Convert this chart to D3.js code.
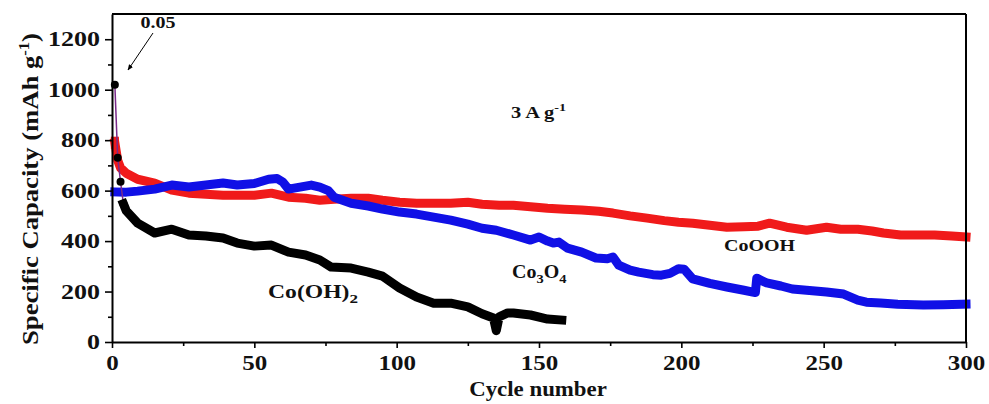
<!DOCTYPE html>
<html><head><meta charset="utf-8">
<script src="https://cdn.jsdelivr.net/npm/d3@7/dist/d3.min.js"></script>
<style>
body{margin:0;background:#fff}
text{font-family:"Liberation Serif","Times New Roman",serif;font-weight:bold;fill:#111}
</style>
</head><body>
<svg id="chart" width="989" height="404"></svg>
<script>
// ---------- data ----------
const xTicks = [0, 50, 100, 150, 200, 250, 300];
const xMinorTicks = [25, 75, 125, 175, 225, 275];
const yTicks = [0, 200, 400, 600, 800, 1000, 1200];
const yMinorTicks = [100, 300, 500, 700, 900, 1100];

const cobhCycles = [1,2,3,4,5,9,15,21,27,33,39,44,50,56,62,68,73,77,84,90,95,101,107,113,119,125,130,134,135,136,139,141,147,153,158];
const cobhValues = [1020,730,635,548,520,471,432,447,424,420,412,392,380,384,356,345,325,297,293,277,261,214,178,154,154,139,112,95,45,100,115,115,107,91,87];

const coohCycles = [1,2,3,5,9,15,21,27,33,39,44,50,56,62,68,73,78,84,90,95,101,107,113,119,125,130,136,141,147,153,159,165,171,176,182,188,194,199,204,210,216,222,227,231,237,244,251,256,262,267,271,277,283,289,295,300];
const coohValues = [790,720,690,669,645,630,602,590,586,582,582,582,590,574,570,562,566,570,570,562,554,550,550,550,554,546,542,542,536,530,526,523,518,511,500,491,481,475,471,463,455,457,459,471,455,443,455,447,447,440,432,424,424,424,420,416];

const co3o4Cycles = [1,5,9,15,21,27,33,39,44,50,55,58,60,62,66,70,73,76,78,84,90,95,101,107,113,119,125,130,135,141,147,150,153,155,157,160,165,170,174,176,178,182,185,190,193,196,199,201,204,210,216,222,226,226.5,230,235,239,245,251,257,262,265,270,276,285,292,300];
const co3o4Values = [595,594,598,606,622,614,622,630,622,628,645,648,634,606,614,622,614,600,574,550,539,527,515,507,495,483,467,451,443,424,404,416,400,392,396,372,356,333,330,337,305,285,277,267,265,272,290,288,250,232,218,205,196,253,234,222,210,204,198,190,166,158,155,150,147,148,150];

// ---------- setup ----------
const svg = d3.select("#chart");
const W = 989, H = 404;
const m = {left:112, right:23, top:14, bottom:62};
const x = d3.scaleLinear().domain([0,300]).range([m.left, W - m.right]);
const y = d3.scaleLinear().domain([0,1300]).range([H - m.bottom, m.top]);

const line = d3.line().x(d => x(d[0])).y(d => y(d[1]));
const zip = (a, b) => a.map((c, i) => [c, b[i]]);

// stretch a text horizontally so it spans the width seen in the reference
function fitWidth(t, target, base) {
  const w = t.node().getBBox().width;
  const s = target / w;
  t.attr("transform", (base || "") + ` scale(${s},1)`);
}

function drawSeries(cycles, values, color, bandStart, thinColor) {
  const pts = zip(cycles, values);
  const g = svg.append("g");
  g.append("path").attr("d", line(pts)).attr("fill","none")
    .attr("stroke", thinColor || color).attr("stroke-width", 1.5);
  g.append("path").attr("d", line(pts.slice(bandStart))).attr("fill","none")
    .attr("stroke", color).attr("stroke-width", 9)
    .attr("stroke-linejoin","round").attr("stroke-linecap","square");
  return g;
}

const gRed = drawSeries(coohCycles, coohValues, "#f01a1a", 0);
gRed.append("rect").attr("x", x(coohCycles[0]) - 4).attr("y", y(coohValues[0]) - 6)
  .attr("width", 8).attr("height", 12).attr("fill", "#f01a1a");
drawSeries(co3o4Cycles, co3o4Values, "#1010e6", 0);
const gBlk = drawSeries(cobhCycles, cobhValues, "#000", 3, "#7a2a8a");
gBlk.selectAll("circle").data(zip(cobhCycles, cobhValues).slice(0, 4)).join("circle")
  .attr("cx", d => x(d[0])).attr("cy", d => y(d[1])).attr("r", 4).attr("fill", "#000");

// ---------- axes ----------
const gx = svg.append("g").attr("transform", `translate(0,${H - m.bottom})`)
  .call(d3.axisBottom(x).tickValues(xTicks).tickSize(6).tickSizeOuter(0).tickPadding(7).tickFormat(d3.format("d")));
svg.append("g").attr("transform", `translate(0,${H - m.bottom})`)
  .call(d3.axisBottom(x).tickValues(xMinorTicks).tickSize(4).tickSizeOuter(0).tickFormat(""))
  .select(".domain").remove();
const gy = svg.append("g").attr("transform", `translate(${m.left},0)`)
  .call(d3.axisLeft(y).tickValues(yTicks).tickSize(7).tickSizeOuter(0).tickPadding(5).tickFormat(d3.format("d")));
svg.append("g").attr("transform", `translate(${m.left},0)`)
  .call(d3.axisLeft(y).tickValues(yMinorTicks).tickSize(4).tickSizeOuter(0).tickFormat(""))
  .select(".domain").remove();
svg.selectAll(".domain").attr("stroke", "#000").attr("stroke-width", 2);
svg.selectAll(".tick line").attr("stroke", "#000").attr("stroke-width", 1.6);
svg.selectAll(".tick text").style("font-size", "21px").attr("fill", "#111")
  .style("font-family", "'Liberation Serif','Times New Roman',serif").style("font-weight", "bold");
// widen tick labels like the reference
gx.selectAll(".tick text").each(function() {
  const t = d3.select(this), n = t.text().length;
  const w = this.getBBox().width, s = (n * 12.5) / w, ty = +t.attr("y");
  t.attr("transform", `translate(0,${ty}) scale(${s},1) translate(0,${-ty})`);
});
gy.selectAll(".tick text").each(function() {
  const t = d3.select(this), n = t.text().length;
  const w = this.getBBox().width, s = (n * 13) / w, tx = +t.attr("x");
  t.attr("transform", `translate(${tx},0) scale(${s},1) translate(${-tx},0)`);
});

// box
svg.append("line").attr("x1", x(0)).attr("x2", x(300)).attr("y1", y(1300)).attr("y2", y(1300))
  .attr("stroke", "#000").attr("stroke-width", 2);
svg.append("line").attr("x1", x(300)).attr("x2", x(300)).attr("y1", y(1300)).attr("y2", y(0))
  .attr("stroke", "#000").attr("stroke-width", 2);

// axis titles
const xt = svg.append("text").attr("x", 0).attr("y", 0).attr("text-anchor", "middle")
  .style("font-size", "22px").text("Cycle number");
fitWidth(xt, 138, "translate(538,396)");
const yl = svg.append("text").attr("x", 0).attr("y", 0).attr("text-anchor", "middle")
  .style("font-size", "24px");
yl.append("tspan").text("Specific Capacity (mAh g");
yl.append("tspan").attr("dy", -9).style("font-size", "15px").text("-1");
yl.append("tspan").attr("dy", 9).text(")");
fitWidth(yl, 312, "translate(38,189) rotate(-90)");

// annotations
const t05 = svg.append("text").attr("x", 0).attr("y", 0).attr("text-anchor", "middle")
  .style("font-size", "17px").text("0.05");
fitWidth(t05, 35, "translate(158,28)");
svg.append("defs").append("marker").attr("id", "arr").attr("viewBox", "0 0 10 10")
  .attr("refX", 9).attr("refY", 5).attr("markerWidth", 6).attr("markerHeight", 6).attr("orient", "auto")
  .append("path").attr("d", "M0,1 L10,5 L0,9 z").attr("fill", "#000");
svg.append("line").attr("x1", 153).attr("y1", 33).attr("x2", 128).attr("y2", 70)
  .attr("stroke", "#000").attr("stroke-width", 1).attr("marker-end", "url(#arr)");

const t3 = svg.append("text").attr("x", 0).attr("y", 0).style("font-size", "16px");
t3.append("tspan").text("3 A g");
t3.append("tspan").attr("dy", -7).style("font-size", "11px").text("-1");
fitWidth(t3, 55, "translate(511,118)");

const tc1 = svg.append("text").attr("x", 0).attr("y", 0).style("font-size", "18px");
tc1.append("tspan").text("Co(OH)");
tc1.append("tspan").attr("dy", 5).style("font-size", "13px").text("2");
fitWidth(tc1, 90, "translate(268,298)");

const tc2 = svg.append("text").attr("x", 0).attr("y", 0).style("font-size", "18px");
tc2.append("tspan").text("Co");
tc2.append("tspan").attr("dy", 5).style("font-size", "13px").text("3");
tc2.append("tspan").attr("dy", -5).text("O");
tc2.append("tspan").attr("dy", 5).style("font-size", "13px").text("4");
fitWidth(tc2, 55, "translate(512,278)");

const tc3 = svg.append("text").attr("x", 0).attr("y", 0).style("font-size", "17px").text("CoOOH");
fitWidth(tc3, 71, "translate(724,251)");
</script>
</body></html>
